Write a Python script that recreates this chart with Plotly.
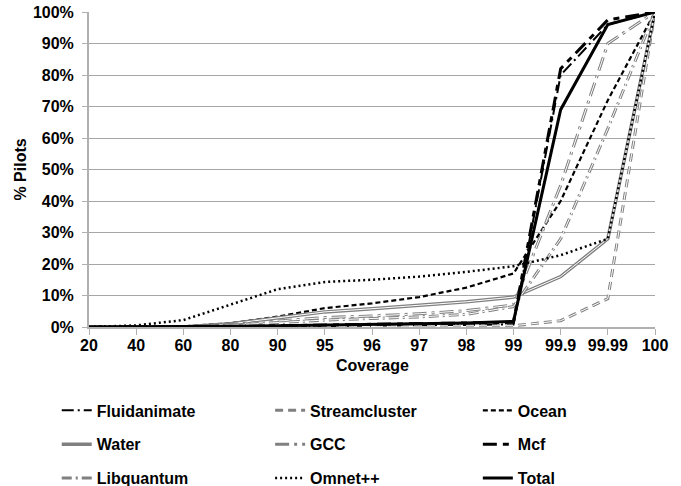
import plotly.graph_objects as go

categories = ["20", "40", "60", "80", "90", "95", "96", "97", "98", "99", "99.9", "99.99", "100"]

fluidanimate = [0, 0, 0, 0, 0.2, 0.3, 0.4, 0.5, 0.6, 0.8, 80, 96, 100]
streamcluster = [0, 0, 0, 0, 0.1, 0.2, 0.2, 0.3, 0.3, 0.4, 2, 9, 100]
ocean = [0, 0, 0.2, 1.2, 3.3, 6, 7.5, 9.5, 12.5, 17, 40, 72, 100]
water = [0, 0, 0, 1, 3, 4.8, 5.8, 6.8, 8, 9.5, 16, 28, 100]
gcc = [0, 0, 0, 0.8, 2, 3, 3.5, 4.2, 5.2, 7, 45, 90, 100]
mcf = [0, 0, 0, 0.2, 0.4, 0.6, 0.7, 0.9, 1.1, 1.5, 82, 97.5, 100]
libquantum = [0, 0, 0, 0.6, 1.5, 2.2, 2.7, 3.2, 4, 6.5, 28, 63, 100]
omnet = [0, 0.5, 2.2, 7, 12, 14.3, 15, 16, 17.5, 19.3, 22.8, 28, 100]
total = [0, 0, 0, 0.2, 0.4, 0.6, 0.8, 1, 1.3, 1.8, 69, 96, 100]

GRAY = "#808080"
FONT = "Liberation Sans, Arial, sans-serif"

# name, values, color, width, dash, double-line, legend id
series = [
    ("Fluidanimate", fluidanimate, "black", 2, "12px,4px,2px,4px", False, "legend"),
    ("Streamcluster", streamcluster, GRAY, 3, "8px,5px", True, "legend2"),
    ("Ocean", ocean, "black", 2.2, "5px,3px", False, "legend3"),
    ("Water", water, GRAY, 3.5, "solid", True, "legend"),
    ("GCC", gcc, GRAY, 3, "14px,5px,3px,5px", True, "legend2"),
    ("Mcf", mcf, "black", 3, "14px,6px,6px,6px", False, "legend3"),
    ("Libquantum", libquantum, GRAY, 3, "10px,4px,2px,4px", True, "legend"),
    ("Omnet++", omnet, "black", 2.5, "2px,3px", False, "legend2"),
    ("Total", total, "black", 3, "solid", False, "legend3"),
]

fig = go.Figure()
for name, vals, color, width, dash, double, leg in series:
    fig.add_trace(go.Scatter(
        x=categories, y=vals, mode="lines", name="<b>" + name + "</b>",
        line=dict(color=color, width=width, dash=dash),
        legend=leg, legendgroup=name,
    ))
    if double:
        fig.add_trace(go.Scatter(
            x=categories, y=vals, mode="lines", name=name + " inner",
            line=dict(color="white", width=1, dash=dash),
            showlegend=False, hoverinfo="skip", legend=leg, legendgroup=name,
        ))

legend_common = dict(
    orientation="v", yanchor="top", xanchor="left",
    font=dict(family=FONT, size=16, color="black"),
    tracegroupgap=10, bgcolor="rgba(0,0,0,0)", itemwidth=30,
)

LEG_Y = -0.211

fig.update_layout(
    width=681, height=486,
    margin=dict(l=89, r=26, t=12, b=159, autoexpand=False),
    paper_bgcolor="white", plot_bgcolor="white",
    font=dict(family=FONT, size=16, color="black"),
    legend=dict(x=-0.057, y=LEG_Y, **legend_common),
    legend2=dict(x=0.32, y=LEG_Y, **legend_common),
    legend3=dict(x=0.687, y=LEG_Y, **legend_common),
    xaxis=dict(
        type="category", range=[0, 12],
        showgrid=False, showline=True, linecolor="#b0b0b0", linewidth=2,
        ticks="outside", ticklen=6, tickcolor="#b0b0b0", tickwidth=1,
        tickfont=dict(family=FONT, size=16, color="black"),
        ticklabelstandoff=-3,
        tickprefix="<b>", ticksuffix="</b>",
    ),
    yaxis=dict(
        range=[0, 100], dtick=10,
        showgrid=True, gridcolor="#a6a6a6", gridwidth=1,
        showline=True, linecolor="#b0b0b0", linewidth=2,
        ticks="outside", ticklen=5, tickcolor="#b0b0b0",
        ticklabelstandoff=5,
        ticksuffix="%</b>", tickprefix="<b>",
        tickfont=dict(family=FONT, size=16, color="black"),
        title=dict(text="<b>% Pilots</b>", font=dict(family=FONT, size=16), standoff=2),
        zeroline=False,
    ),
    annotations=[dict(
        text="<b>Coverage</b>", xref="paper", yref="paper", x=0.5, y=-0.122,
        xanchor="center", yanchor="middle", showarrow=False,
        font=dict(family=FONT, size=16, color="black"),
    )],
)

fig.write_html("out.html")
